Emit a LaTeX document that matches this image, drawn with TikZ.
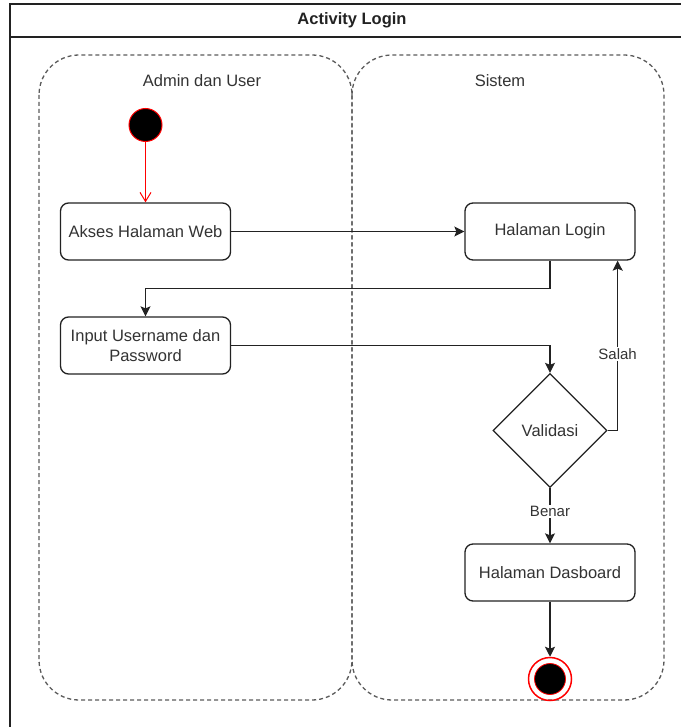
\documentclass[tikz,border=0pt]{standalone}
\usepackage{fontspec}
\setmainfont{Liberation Sans}
\usetikzlibrary{arrows.meta,positioning,shapes.geometric}
\definecolor{alInk}{HTML}{222222}
\definecolor{alText}{HTML}{333333}
\definecolor{alDash}{HTML}{5A5A5A}
\definecolor{alRed}{HTML}{FF0000}
\tikzset{
  alArrow/.style={-{Stealth[length=10pt,width=10pt,inset=2pt]},line width=1.3pt,draw=alInk},
  alStartArrow/.style={-{Straight Barb[length=9pt,width=11pt]},line width=1pt,draw=alRed},
  alFrame/.style={draw=alInk,line width=1.5pt},
  alLane/.style={draw=alDash,dashed,dash pattern=on 4pt off 3pt,line width=1.3pt,rounded corners=40pt},
  alAction/.style={draw=alInk,fill=white,rounded corners=8pt,line width=1.3pt,
    minimum width=170pt,minimum height=57pt,align=center,inner sep=2pt,
    font=\fontsize{16.5}{20}\selectfont,text=alText},
  alDecision/.style={diamond,draw=alInk,fill=white,line width=1.3pt,inner sep=0pt,
    minimum width=114pt,minimum height=114pt,font=\fontsize{16.5}{20}\selectfont,text=alText},
  alLabel/.style={fill=white,inner sep=1.5pt,font=\fontsize{15}{18}\selectfont,text=alText},
  alLaneTitle/.style={font=\fontsize{16.5}{20}\selectfont,text=alText},
  alTitle/.style={font=\bfseries\fontsize{16.5}{20}\selectfont,text=alInk}
}
\begin{document}
\begin{tikzpicture}[x=1pt,y=-1pt]
\useasboundingbox (0,0) rectangle (680,727);
% frame with title bar
\draw[alFrame] (10,740) -- (10,4) -- (690,4);
\draw[alFrame] (10,37) -- (690,37);
\node[alTitle] (title) at (352,20.5) {Activity Login};
% swimlanes
\draw[alLane] (39,55) rectangle (352,700);
\draw[alLane] (352,55) rectangle (664,700);
\node[alLaneTitle] (laneUser) at (202,81) {Admin dan User};
\node[alLaneTitle] (laneSistem) at (500,81) {Sistem};
% activities
\node[circle,fill=black,draw=alRed,line width=1pt,minimum size=33pt,inner sep=0pt] (start) at (145.5,125) {};
\node[alAction] (akses) at (145.5,231.5) {Akses Halaman Web};
\node[alAction] (input) at (145.5,345.5) {Input Username dan\\Password};
\node[alAction] (login) at (550,231.5) {Halaman Login};
\node[alDecision] (validasi) at (550,430.5) {Validasi};
\node[alAction] (dasboard) at (550,572.5) {Halaman Dasboard};
\node[circle,draw=alRed,line width=1.5pt,minimum size=43pt,inner sep=0pt] (stop) at (550,679) {};
\fill[black,draw=alRed,line width=0.8pt] (stop.center) circle (15.5pt);
% flows
\draw[alStartArrow] (start) -- (akses);
\draw[alArrow] (akses) -- (login);
\draw[alArrow] (login.south) -- ++(0,28) -| (input.north);
\draw[alArrow] (input.east) -| (validasi.north);
\draw[alArrow] (validasi.east) -- ++(10,0) coordinate (salahTurn)
  -- (salahTurn |- login.south) node[alLabel,pos=0.45] {Salah};
\draw[alArrow] (validasi.south) -- node[alLabel,pos=0.42] {Benar} (dasboard.north);
\draw[alArrow] (dasboard.south) -- (stop);
\end{tikzpicture}
\end{document}
